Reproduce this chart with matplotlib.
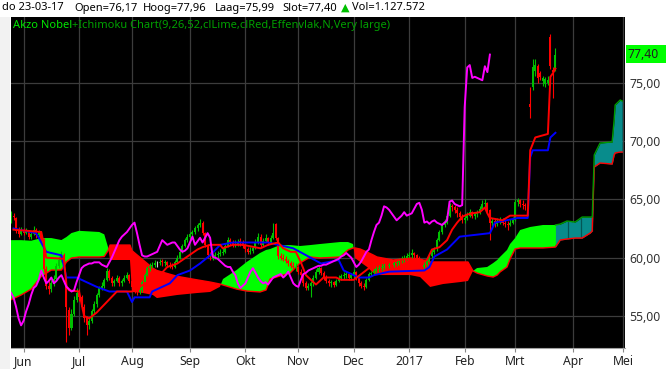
import numpy as np
import pandas as pd
import matplotlib
matplotlib.use('Agg')
import matplotlib.pyplot as plt
from matplotlib.patches import Rectangle

plt.rcParams['font.family'] = ['Noto Sans', 'DejaVu Sans']

# ---------------- data ----------------
start_date = '2016-05-25'
last_date = '2017-03-23'
chikou_shift = 26

opens = [63.2, 63.6, 63.4, 62.3, 62.0, 62.4, 62.1, 62.3, 61.8, 62.0,
         62.4, 61.9, 62.2, 61.5, 59.0, 57.6, 57.3, 57.8, 58.2, 59.3,
         59.8, 60.2, 58.2, 55.5, 54.0, 55.2, 56.4, 57.0, 56.6, 55.8,
         54.8, 54.2, 54.6, 55.4, 56.0, 56.8, 57.4, 57.6, 58.1, 58.9,
         58.3, 57.8, 58.0, 58.3, 57.8, 58.0, 58.3, 58.5, 58.0, 57.5,
         57.3, 57.1, 57.2, 57.9, 58.5, 59.1, 59.3, 59.4, 59.5, 59.5,
         59.7, 59.5, 59.6, 59.4, 59.3, 59.2, 59.6, 60.0, 60.5, 61.0,
         61.5, 61.8, 62.0, 62.2, 62.5, 62.8, 63.0, 62.1, 61.1, 60.2,
         60.0, 60.1, 60.2, 60.3, 60.4, 60.5, 61.0, 61.5, 61.3, 61.1,
         61.2, 61.4, 61.3, 61.0, 60.7, 60.5, 60.6, 60.8, 61.3, 61.8,
         61.1, 61.4, 61.7, 61.3, 61.7, 62.9, 61.7, 60.1, 60.0, 59.9,
         59.7, 59.5, 59.3, 59.1, 59.2, 58.8, 58.5, 57.8, 57.4, 57.6,
         57.8, 58.3, 58.8, 59.1, 58.7, 58.3, 58.0, 57.8, 57.9, 57.7,
         58.0, 58.3, 58.4, 58.5, 58.6, 58.3, 58.5, 58.8, 58.3, 57.8,
         57.6, 57.5, 58.1, 58.6, 58.7, 58.9, 59.0, 59.1, 59.2, 59.4,
         59.3, 59.5, 59.4, 59.5, 59.6, 59.7, 59.8, 59.9, 60.1, 60.2,
         60.4, 60.2, 60.0, 59.6, 59.2, 59.4, 59.7, 60.1, 60.5, 60.7,
         61.5, 62.2, 62.8, 63.0, 63.6, 64.4, 64.3, 64.1, 63.8, 63.5,
         63.2, 63.4, 63.6, 63.9, 63.6, 63.7, 63.8, 64.2, 64.6, 64.7,
         64.1, 63.0, 63.1, 62.9, 63.1, 63.2, 63.0, 62.9, 62.8, 63.0,
         63.2, 64.8, 64.9, 64.6, 64.5, 64.4, 73.2, 74.6, 76.0, 76.4,
         75.8, 75.1, 74.9, 75.0, 78.9, 76.1, 76.17]

closes = [63.6, 63.5, 62.3, 62.0, 62.4, 62.1, 62.3, 61.8, 62.0, 62.4,
          61.9, 62.2, 61.5, 59.0, 57.6, 57.3, 57.8, 58.2, 59.3, 59.8,
          60.2, 59.6, 55.8, 54.0, 55.2, 56.4, 57.0, 56.6, 55.8, 54.8,
          54.2, 54.6, 55.4, 56.0, 56.8, 57.4, 57.6, 58.1, 58.9, 58.3,
          57.8, 58.0, 58.3, 57.8, 58.0, 58.3, 58.5, 58.0, 57.5, 57.3,
          57.1, 57.2, 57.9, 58.5, 59.1, 59.3, 59.4, 59.5, 59.5, 59.6,
          59.6, 59.6, 59.4, 59.3, 59.2, 59.6, 60.0, 60.5, 61.0, 61.5,
          61.8, 62.0, 62.2, 62.5, 62.8, 63.0, 62.1, 61.1, 60.2, 60.1,
          60.1, 60.2, 60.3, 60.4, 60.5, 61.0, 61.5, 61.3, 61.1, 61.2,
          61.3, 61.3, 61.0, 60.7, 60.5, 60.6, 60.8, 61.3, 61.8, 61.1,
          61.4, 61.7, 61.3, 61.7, 62.1, 61.7, 60.1, 60.0, 59.9, 59.7,
          59.5, 59.3, 59.2, 59.2, 58.8, 58.5, 57.8, 57.4, 57.6, 57.8,
          58.3, 58.8, 59.1, 58.7, 58.3, 58.0, 57.8, 57.9, 57.7, 58.0,
          58.3, 58.4, 58.5, 58.6, 58.3, 58.5, 58.8, 58.3, 57.8, 57.6,
          57.5, 58.1, 58.6, 58.7, 58.9, 59.0, 59.1, 59.2, 59.3, 59.3,
          59.4, 59.4, 59.5, 59.6, 59.7, 59.8, 59.9, 60.1, 60.2, 60.4,
          60.2, 60.0, 59.6, 59.2, 59.4, 59.7, 60.1, 60.5, 60.7, 61.5,
          62.2, 62.8, 63.0, 63.6, 64.4, 64.3, 64.1, 63.8, 63.5, 63.2,
          63.4, 63.6, 63.9, 63.6, 63.7, 63.8, 64.2, 64.6, 64.7, 64.1,
          63.0, 63.1, 62.9, 63.1, 63.2, 63.0, 62.9, 62.8, 63.0, 63.2,
          64.8, 64.9, 64.6, 64.5, 64.4, 64.5, 72.9, 76.3, 76.5, 75.4,
          75.5, 75.4, 75.3, 75.2, 76.4, 75.9, 77.40]

highs = [64.0, 63.8, 63.5, 62.6, 62.6, 62.5, 62.5, 62.4, 62.2, 62.7,
         62.5, 62.4, 62.3, 61.7, 59.3, 58.0, 58.1, 58.5, 59.5, 60.1,
         60.6, 60.4, 58.4, 55.8, 55.6, 56.7, 57.4, 57.3, 56.8, 56.0,
         55.0, 54.9, 55.6, 56.3, 57.0, 57.6, 57.9, 58.3, 59.1, 59.0,
         58.4, 58.2, 58.5, 58.4, 58.2, 58.5, 58.8, 58.6, 58.1, 57.6,
         57.5, 57.5, 58.1, 58.7, 59.3, 59.5, 59.6, 59.8, 59.7, 59.9,
         59.9, 59.8, 59.7, 59.6, 59.5, 59.8, 60.2, 60.7, 61.2, 61.7,
         62.0, 62.2, 62.4, 62.7, 63.0, 63.3, 63.1, 62.2, 61.2, 60.5,
         60.4, 60.5, 60.6, 60.7, 60.8, 61.2, 61.8, 61.7, 61.5, 61.5,
         61.6, 61.7, 61.5, 61.2, 60.9, 60.9, 61.0, 61.6, 62.1, 62.0,
         61.7, 62.0, 61.8, 61.9, 63.0, 63.0, 61.8, 60.4, 60.3, 60.1,
         59.9, 59.7, 59.6, 59.5, 59.3, 59.0, 58.6, 58.0, 57.8, 58.0,
         58.5, 59.0, 59.3, 59.2, 58.9, 58.5, 58.2, 58.1, 58.0, 58.2,
         58.5, 58.6, 58.8, 58.9, 58.7, 58.7, 59.0, 58.9, 58.4, 58.0,
         57.8, 58.3, 58.8, 58.9, 59.1, 59.3, 59.4, 59.5, 59.6, 59.6,
         59.7, 59.7, 59.8, 59.9, 60.0, 60.1, 60.2, 60.4, 60.5, 60.7,
         60.5, 60.3, 60.1, 59.7, 59.6, 59.9, 60.3, 60.7, 60.9, 61.7,
         62.4, 63.0, 63.3, 63.8, 64.7, 64.6, 64.5, 64.3, 64.0, 63.7,
         63.7, 63.9, 64.2, 64.0, 63.9, 64.1, 64.4, 64.9, 65.0, 64.8,
         64.2, 63.4, 63.3, 63.4, 63.5, 63.4, 63.3, 63.1, 63.3, 63.5,
         65.0, 65.1, 65.0, 64.9, 64.7, 64.9, 74.6, 77.0, 77.0, 76.6,
         76.0, 75.6, 75.5, 75.6, 79.2, 76.3, 77.96]

lows = [63.0, 63.2, 62.1, 61.8, 61.9, 61.9, 62.0, 61.6, 61.6, 61.9,
        61.7, 61.8, 61.3, 58.8, 57.3, 56.9, 57.1, 57.6, 58.0, 59.1,
        59.6, 59.3, 52.8, 53.4, 53.8, 55.0, 56.2, 56.3, 55.5, 54.5,
        53.4, 53.9, 54.4, 55.2, 55.8, 56.6, 57.2, 57.4, 58.0, 58.1,
        57.6, 57.6, 57.9, 57.6, 57.6, 57.9, 58.2, 57.8, 57.3, 57.0,
        56.8, 56.9, 57.1, 57.8, 58.4, 58.9, 59.1, 59.2, 59.2, 59.4,
        59.3, 59.3, 59.2, 59.1, 59.0, 59.1, 59.5, 59.9, 60.4, 60.9,
        61.3, 61.6, 61.8, 62.0, 62.3, 62.6, 61.9, 60.9, 60.0, 59.8,
        59.8, 59.9, 60.0, 60.1, 60.2, 60.4, 60.9, 61.1, 60.9, 60.9,
        61.0, 61.0, 60.8, 60.5, 60.3, 60.3, 60.4, 60.7, 61.2, 60.9,
        61.0, 61.3, 61.1, 61.2, 61.6, 61.5, 59.9, 59.8, 59.7, 59.5,
        59.3, 59.1, 59.0, 58.9, 58.6, 58.3, 57.6, 57.2, 57.2, 56.6,
        57.6, 58.2, 58.6, 58.5, 58.1, 57.8, 57.6, 57.5, 57.5, 57.6,
        57.9, 58.1, 58.2, 58.3, 58.1, 58.1, 58.3, 58.1, 57.6, 57.4,
        57.2, 57.4, 58.0, 58.4, 58.5, 58.7, 58.8, 58.9, 59.0, 59.0,
        59.1, 59.2, 59.2, 59.3, 59.4, 59.5, 59.6, 59.8, 59.9, 60.0,
        60.0, 59.8, 59.4, 59.0, 59.0, 59.2, 59.6, 60.0, 60.3, 60.6,
        61.4, 62.0, 62.6, 62.9, 63.5, 64.0, 63.8, 63.5, 63.2, 63.0,
        63.0, 63.2, 63.5, 63.4, 63.3, 63.5, 63.7, 64.1, 64.3, 63.9,
        61.5, 62.7, 62.6, 62.7, 62.9, 62.8, 62.6, 62.4, 62.7, 62.9,
        63.1, 64.4, 64.3, 64.2, 64.1, 64.2, 72.0, 74.4, 75.6, 75.0,
        75.2, 74.7, 74.6, 74.8, 76.2, 73.7, 75.99]

# Tenkan-sen (red): trading-day number, value
tenkan_day = [1, 12, 13, 14, 21, 22, 23, 27, 29, 31, 34, 38, 42, 48, 54, 59, 62, 66,
              70, 74, 76, 79, 83, 84, 88, 92, 99, 102, 106, 108, 111, 113, 115, 117,
              119, 121, 124, 129, 131, 136, 142, 144, 146, 150, 154, 158, 162, 165,
              167, 170, 173, 175, 177, 179, 181, 183, 186, 188, 189, 190, 195, 198,
              205, 206, 208, 213, 214, 215, 216]
tenkan = [62.4, 62.2, 61.2, 60.0, 59.9, 57.6, 57.2, 57.1, 55.0, 54.8, 55.3, 56.2,
          57.1, 57.1, 57.9, 58.5, 59.2, 59.5, 60.1, 60.7, 60.9, 61.1, 61.1, 60.8,
          61.1, 61.1, 60.8, 61.1, 61.3, 60.8, 60.5, 60.5, 59.6, 58.5, 58.1, 57.7,
          58.3, 58.3, 58.1, 58.1, 59.1, 59.2, 59.5, 59.6, 59.8, 59.9, 59.6, 59.8,
          60.7, 60.9, 61.5, 62.4, 63.0, 63.5, 63.7, 63.8, 63.9, 64.3, 63.8, 63.4,
          63.2, 63.6, 63.6, 69.2, 70.3, 70.6, 75.5, 75.8, 76.2]

# Kijun-sen (blue)
kijun_day = [1, 10, 14, 20, 22, 26, 34, 39, 46, 48, 49, 55, 56, 63, 66, 71, 75, 79,
             83, 88, 102, 106, 112, 118, 123, 130, 132, 138, 142, 144, 150, 164, 166,
             168, 173, 178, 190, 192, 201, 205, 206, 207, 213, 214, 216]
kijun = [62.5, 62.1, 60.5, 60.2, 58.3, 58.3, 57.5, 57.1, 57.1, 56.2, 56.6, 56.6,
         57.1, 57.8, 58.5, 58.9, 59.5, 60.2, 61.1, 61.3, 61.3, 61.1, 60.8, 60.1,
         59.5, 59.8, 58.9, 58.3, 58.3, 58.5, 58.8, 58.9, 59.2, 60.1, 60.7, 61.8,
         62.1, 63.0, 63.4, 63.4, 68.6, 69.2, 69.2, 70.3, 70.7]

# Senkou span A / B (cloud)
cloud_day = [0, 4, 8, 12, 16, 20, 22, 24, 27, 35, 37, 38.5, 39.3, 47.2, 48, 52.4,
             56.3, 57.9, 65.9, 73.8, 79, 82.9, 84.1, 89.5, 93.5, 98.8, 101.2, 102.8,
             106.7, 110.7, 114.7, 118.7, 122.6, 130.6, 133.7, 135.7, 136.5, 138.5,
             141.3, 143.7, 145.2, 151.6, 158.3, 162.3, 166.3, 171.4, 178.2, 181.3,
             183.3, 184.9, 188.9, 191.3, 192.9, 194, 196.8, 198, 200, 202, 206,
             211.1, 216, 217.9, 220.6, 223.8, 226.6, 229.8, 230.6, 231.4, 233.7,
             238.5, 239.3, 239.7, 241.7, 242.5]
senkou_a = [61.50, 61.50, 61.45, 61.68, 61.68, 61.51, 61.77, 62.11, 62.30, 62.20,
            62.00, 60.90, 59.80, 59.80, 57.06, 56.97, 56.80, 56.54, 56.80, 56.97,
            57.06, 57.50, 58.17, 58.94, 59.63, 60.40, 60.66, 60.74, 61.08, 61.08,
            61.00, 61.08, 61.17, 61.34, 61.34, 61.17, 59.97, 59.63, 59.20, 58.68,
            58.51, 58.51, 58.51, 58.34, 57.49, 57.74, 57.91, 58.00, 58.86, 59.11,
            59.20, 59.54, 59.80, 60.06, 60.66, 61.17, 61.68, 62.37, 62.63, 62.80,
            62.80, 62.88, 63.14, 63.05, 63.48, 63.48, 63.48, 68.80, 69.82, 69.91,
            71.80, 73.08, 73.51, 73.42]
senkou_b = [56.40, 56.80, 57.30, 58.40, 58.94, 58.94, 59.63, 59.97, 60.06, 60.06,
            60.10, 60.60, 61.08, 61.08, 60.60, 59.80, 59.10, 58.90, 58.40, 58.10,
            57.91, 57.74, 57.66, 57.31, 57.14, 57.06, 57.23, 58.17, 58.43, 58.68,
            59.54, 60.06, 59.97, 60.06, 60.66, 60.83, 60.83, 60.74, 60.48, 60.23,
            60.06, 59.80, 59.97, 59.88, 59.63, 59.63, 59.63, 59.63, 58.86, 58.68,
            58.43, 58.34, 58.51, 58.77, 59.20, 59.88, 60.74, 60.83, 60.83, 60.83,
            60.91, 61.51, 61.60, 61.68, 61.68, 62.11, 62.28, 67.77, 68.11, 68.02,
            68.80, 68.97, 69.05, 69.05]
cloud_stripe_day = [221, 226, 230.5]

month_labels = ['Jun', 'Jul', 'Aug', 'Sep', 'Okt', 'Nov', 'Dec', '2017', 'Feb', 'Mrt', 'Apr', 'Mei']
month_starts = ['2016-06-01', '2016-07-01', '2016-08-01', '2016-09-01', '2016-10-01',
                '2016-11-01', '2016-12-01', '2017-01-01', '2017-02-01', '2017-03-01',
                '2017-04-01', '2017-05-01']
y_ticks = [55, 60, 65, 70, 75]
y_tick_labels = ['55,00', '60,00', '65,00', '70,00', '75,00']
last_price_label = '77,40'

header_parts = ['do 23-03-17', 'Open=76,17', 'Hoog=77,96', 'Laag=75,99', 'Slot=77,40']
volume_text = 'Vol=1.127.572'
title_name = 'Akzo Nobel'
title_rest = '+Ichimoku Chart(9,26,52,clLime,clRed,Effenvlak,N,Very large)'

# ---------------- figure ----------------
W, H = 666, 369
fig = plt.figure(figsize=(W / 100, H / 100), dpi=100)
fig.patch.set_facecolor('white')

L, R, T, B = 11, 625, 17, 348
ax = fig.add_axes([L / W, 1 - B / H, (R - L) / W, (B - T) / H])
ax.set_facecolor('black')

dates = pd.bdate_range(start_date, last_date)
day = np.arange(len(dates))
o = np.array(opens); c = np.array(closes); hi = np.array(highs); lo = np.array(lows)
last_day = day[-1]

month_pos = [np.busday_count(start_date, m) for m in month_starts]

ax.set_xlim(0, 243.6)
ax.set_ylim(52.26, 80.62)

# grid
for mp in month_pos:
    ax.axvline(mp, color='#3c3c3c', lw=0.9, zorder=0)
for yt in y_ticks:
    ax.axhline(yt, color='#3c3c3c', lw=0.9, zorder=0)

# cloud
cd = np.array(cloud_day); sa = np.array(senkou_a); sb = np.array(senkou_b)
hist = cd <= last_day
ax.fill_between(cd, sa, sb, where=hist & (sa >= sb), interpolate=True,
                color='#00ff00', lw=0, zorder=1)
ax.fill_between(cd, sa, sb, where=hist & (sa < sb), interpolate=True,
                color='#ff0000', lw=0, zorder=1)
fut = cd >= last_day
ax.fill_between(cd, sa, sb, where=fut, color='#088c8c', lw=0, zorder=1)
for sd in cloud_stripe_day:
    ax.vlines(sd, np.interp(sd, cd, sb), np.interp(sd, cd, sa), color='#035656', lw=0.9, zorder=1.2)
ax.plot(cd, sb, color='#ff0000', lw=1.0, zorder=1.5)
ax.plot(cd[fut], sa[fut], color='#009a00', lw=1.0, zorder=1.5)

# candles
cols = np.where(c > o, '#00c000', np.where(c < o, '#ff0000', '#d0d0d0'))
ax.vlines(day, lo, hi, colors=cols, lw=0.8, zorder=3)
ax.bar(day, np.maximum(np.abs(c - o), 0.08), bottom=np.minimum(o, c), width=0.8,
       color=cols, lw=0, zorder=3)

# lines
ax.plot(kijun_day, kijun, color='#0000ff', lw=1.4, zorder=4)
ax.plot(tenkan_day, tenkan, color='#ff0000', lw=1.4, zorder=4)
ax.plot(day[chikou_shift:] - chikou_shift, c[chikou_shift:], color='#ff00ff', lw=1.4, zorder=5)

# axes styling
for s in ['top', 'left', 'right']:
    ax.spines[s].set_visible(False)
ax.spines['bottom'].set_color('#a0a0a0')
ax.yaxis.tick_right()
ax.set_yticks(y_ticks)
ax.set_yticklabels(y_tick_labels)
ax.tick_params(axis='y', length=0, pad=3, labelsize=8.8, labelcolor='#333333')
ax.set_xticks(month_pos)
ax.set_xticklabels(month_labels)
ax.tick_params(axis='x', length=3, width=0.8, color='#888888', pad=2, labelsize=8.8,
               labelcolor='#222222')

# legend text inside chart
t1 = ax.text(0.0035, 0.973, title_name, transform=ax.transAxes, color='#00e600',
             fontsize=8, va='center', ha='left', zorder=6)
ax.annotate(title_rest, xy=(1, 0.5), xycoords=t1, va='center', ha='left',
            color='#00a000', fontsize=8, zorder=6)

# last price box
fig.patches.append(Rectangle((626 / W, 1 - 63 / H), 40 / W, 18 / H, transform=fig.transFigure,
                             facecolor='#00ff00', edgecolor='none'))
fig.text(628 / W, 1 - 54 / H, last_price_label, fontsize=8.8, color='#202020', va='center', ha='left')

# left strip
fig.patches.append(Rectangle((0, 0), 10 / W, 1 - 17 / H, transform=fig.transFigure,
                             facecolor='#f2f2f2', edgecolor='none'))

# header
header_x = [2, 74, 143, 215, 282]
for hx, txt in zip(header_x, header_parts):
    fig.text(hx / W, 1 - 8 / H, txt, fontsize=8, color='#000000', va='center', ha='left')
fig.text(341 / W, 1 - 8 / H, '\u25b2', fontsize=8, color='#00c000', va='center', ha='left',
         family=['DejaVu Sans'])
fig.text(352 / W, 1 - 8 / H, volume_text, fontsize=8, color='#000000', va='center', ha='left')

fig.savefig('out.png', dpi=100, facecolor=fig.get_facecolor())
